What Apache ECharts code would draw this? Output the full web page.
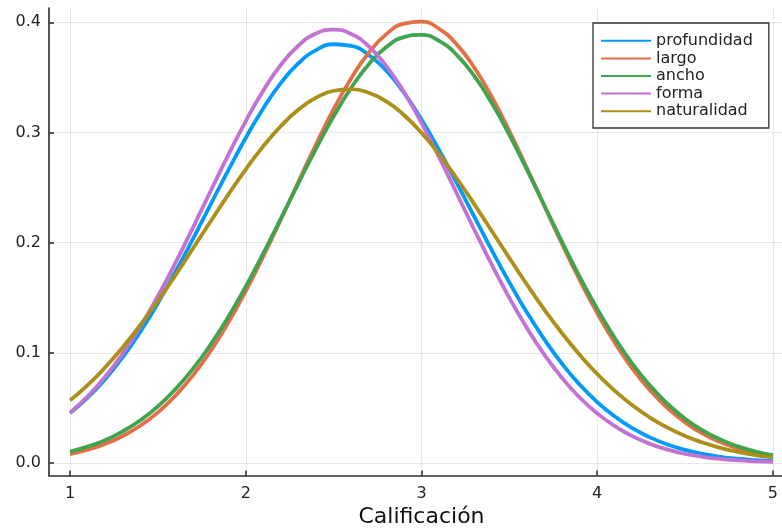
<!DOCTYPE html>
<html>
<head>
<meta charset="utf-8">
<script src="https://cdn.jsdelivr.net/npm/echarts@6/dist/echarts.min.js"></script>
<style>
html,body{margin:0;padding:0;background:#fff;}
#c{width:782px;height:531px;}
</style>
</head>
<body>
<div id="c"></div>
<script>
// ---- data ----
const xs = [1.0,1.1,1.2,1.3,1.4,1.5,1.6,1.7,1.8,1.9,2.0,2.1,2.2,2.3,2.4,2.5,2.6,2.7,2.8,2.9,3.0,
            3.1,3.2,3.3,3.4,3.5,3.6,3.7,3.8,3.9,4.0,4.1,4.2,4.3,4.4,4.5,4.6,4.7,4.8,4.9,5.0];
const profundidad = [0.0453,0.0593,0.0762,0.0962,0.1193,0.1452,0.1736,0.2037,0.2348,0.2657,0.2952,0.3221,0.3450,0.3629,0.3748,0.3801,0.3786,0.3704,0.3560,0.3361,0.3118,
                     0.2841,0.2543,0.2237,0.1932,0.1640,0.1367,0.1120,0.0901,0.0712,0.0553,0.0422,0.0316,0.0233,0.0168,0.0120,0.0083,0.0057,0.0039,0.0026,0.0017];
const largo       = [0.0082,0.0121,0.0174,0.0245,0.0340,0.0460,0.0612,0.0797,0.1017,0.1273,0.1561,0.1877,0.2212,0.2555,0.2893,0.3211,0.3493,0.3725,0.3893,0.3989,0.4006,
                     0.3941,0.3800,0.3590,0.3323,0.3013,0.2677,0.2331,0.1988,0.1662,0.1361,0.1092,0.0858,0.0661,0.0499,0.0369,0.0267,0.0190,0.0132,0.0090,0.0060];
const ancho       = [0.0104,0.0149,0.0208,0.0287,0.0388,0.0515,0.0671,0.0857,0.1076,0.1326,0.1604,0.1905,0.2220,0.2541,0.2854,0.3147,0.3406,0.3620,0.3776,0.3866,0.3886,
                     0.3832,0.3705,0.3513,0.3267,0.2978,0.2663,0.2335,0.2008,0.1693,0.1400,0.1135,0.0902,0.0704,0.0538,0.0403,0.0297,0.0214,0.0151,0.0105,0.0071];
const forma       = [0.0458,0.0605,0.0784,0.0995,0.1240,0.1516,0.1818,0.2139,0.2469,0.2795,0.3104,0.3382,0.3615,0.3790,0.3899,0.3934,0.3894,0.3782,0.3602,0.3367,0.3086,
                     0.2776,0.2449,0.2120,0.1800,0.1499,0.1225,0.0982,0.0772,0.0595,0.0451,0.0335,0.0244,0.0174,0.0122,0.0084,0.0057,0.0037,0.0024,0.0016,0.0010];
const naturalidad = [0.0569,0.0708,0.0869,0.1051,0.1253,0.1472,0.1706,0.1949,0.2194,0.2436,0.2666,0.2876,0.3059,0.3208,0.3316,0.3379,0.3394,0.3361,0.3282,0.3159,0.2997,
                     0.2803,0.2585,0.2350,0.2106,0.1861,0.1620,0.1391,0.1178,0.0983,0.0808,0.0656,0.0524,0.0413,0.0321,0.0246,0.0186,0.0138,0.0101,0.0073,0.0052];
const seriesNames = ['profundidad','largo','ancho','forma','naturalidad'];
const xTicks = [1,2,3,4,5];
const yTicks = [0,0.1,0.2,0.3,0.4];
const xTitle = 'Calificación';

// ---- styling ----
const seriesValues = [profundidad, largo, ancho, forma, naturalidad];
const colors = ['#009AFA','#E36F47','#3EA44E','#C371D2','#AC8E18'];
const FONT = 'DejaVu Sans';
const AXIS_COLOR = '#2b2b2b';
const GRID_COLOR = 'rgba(0,0,0,0.09)';

const chart = echarts.init(document.getElementById('c'), null, {renderer:'canvas'});

const option = {
  animation: false,
  backgroundColor: '#ffffff',
  grid: {left: 49, right: -12, top: 8, bottom: 55.5, containLabel: false, outerBoundsMode: 'none'},
  xAxis: {
    type: 'value', min: 0.88, max: 5.12,
    name: xTitle, nameLocation: 'middle', nameGap: 30,
    nameTextStyle: {fontFamily: FONT, fontSize: 22, color: '#111'},
    axisLine: {show: true, onZero: false, lineStyle: {color: AXIS_COLOR, width: 1.6}},
    axisTick: {show: true, inside: true, length: 5, customValues: xTicks, lineStyle: {color: AXIS_COLOR, width: 1.5}},
    axisLabel: {customValues: xTicks, margin: 10, fontFamily: FONT, fontSize: 16, color: '#222', formatter: v => String(v)},
    splitLine: {show: true, lineStyle: {color: GRID_COLOR, width: 1}}
  },
  yAxis: {
    type: 'value', min: -0.0113, max: 0.413,
    axisLine: {show: true, onZero: false, lineStyle: {color: AXIS_COLOR, width: 1.6}},
    axisTick: {show: true, inside: true, length: 5, customValues: yTicks, lineStyle: {color: AXIS_COLOR, width: 1.5}},
    axisLabel: {customValues: yTicks, margin: 8, fontFamily: FONT, fontSize: 16, color: '#222', formatter: v => v.toFixed(1)},
    splitLine: {show: true, lineStyle: {color: GRID_COLOR, width: 1}}
  },
  legend: {
    orient: 'vertical', left: 593, top: 23,
    padding: [9, 16, 8, 8],
    itemWidth: 50, itemHeight: 2, itemGap: 0,
    icon: 'rect',
    backgroundColor: '#ffffff', borderColor: '#333', borderWidth: 1.3, borderRadius: 0,
    textStyle: {fontFamily: FONT, fontSize: 16, color: '#222', lineHeight: 17.6},
    data: seriesNames
  },
  series: seriesNames.map((name, k) => ({
    name: name,
    type: 'line',
    data: xs.map((x, i) => [x, seriesValues[k][i]]),
    symbol: 'none',
    smooth: true,
    lineStyle: {color: colors[k], width: 3.8},
    itemStyle: {color: colors[k]},
    emphasis: {disabled: true}
  }))
};
chart.setOption(option);
</script>
</body>
</html>
